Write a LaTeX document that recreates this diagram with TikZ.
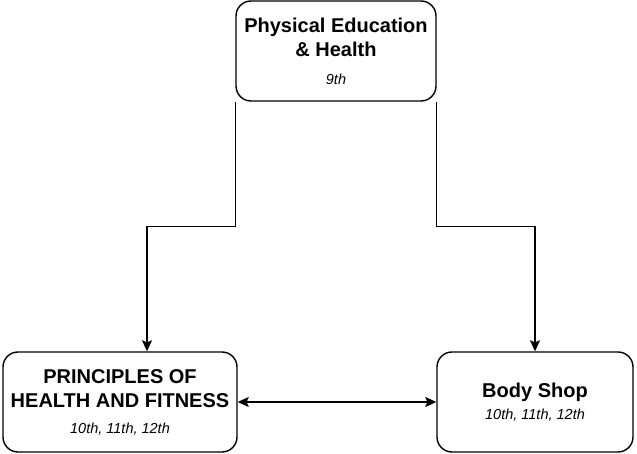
\documentclass[tikz,border=0pt]{standalone}
\usepackage{fontspec}
\setmainfont{Liberation Sans}
\usetikzlibrary{arrows.meta}

\begin{document}
\begin{tikzpicture}[x=1pt,y=-1pt,
  >={Stealth[length=11pt,width=10pt,inset=2pt]},
  course/.style={draw,line width=1.4pt,rounded corners=15pt,align=center,inner sep=0pt,
    font=\fontsize{20}{24.5}\selectfont\bfseries},
  link/.style={line width=1.3pt,->}]
\useasboundingbox (0,0) rectangle (637,454);
\node[course,minimum width=200pt,minimum height=100pt] (phys) at (336,51)
  {Physical Education\\\& Health\\[3pt]{\fontsize{14.5}{17}\selectfont\mdseries\itshape 9th}};
\node[course,minimum width=234pt,minimum height=100pt] (prin) at (120,402)
  {PRINCIPLES OF\\HEALTH AND FITNESS\\[1pt]{\fontsize{14.5}{17}\selectfont\mdseries\itshape 10th, 11th, 12th}};
\node[course,minimum width=196pt,minimum height=100pt] (body) at (535,402)
  {Body Shop\\[-2pt]{\fontsize{14.5}{17}\selectfont\mdseries\itshape 10th, 11th, 12th}};
\coordinate (bendl) at ([xshift=27pt]prin.north);
\draw[link] (phys.south west) -- ++(0,125) -| (bendl);
\draw[link] (phys.south east) -- ++(0,125) -| (body.north);
\draw[link,<->] (prin.east) -- (body.west);
\end{tikzpicture}
\end{document}
